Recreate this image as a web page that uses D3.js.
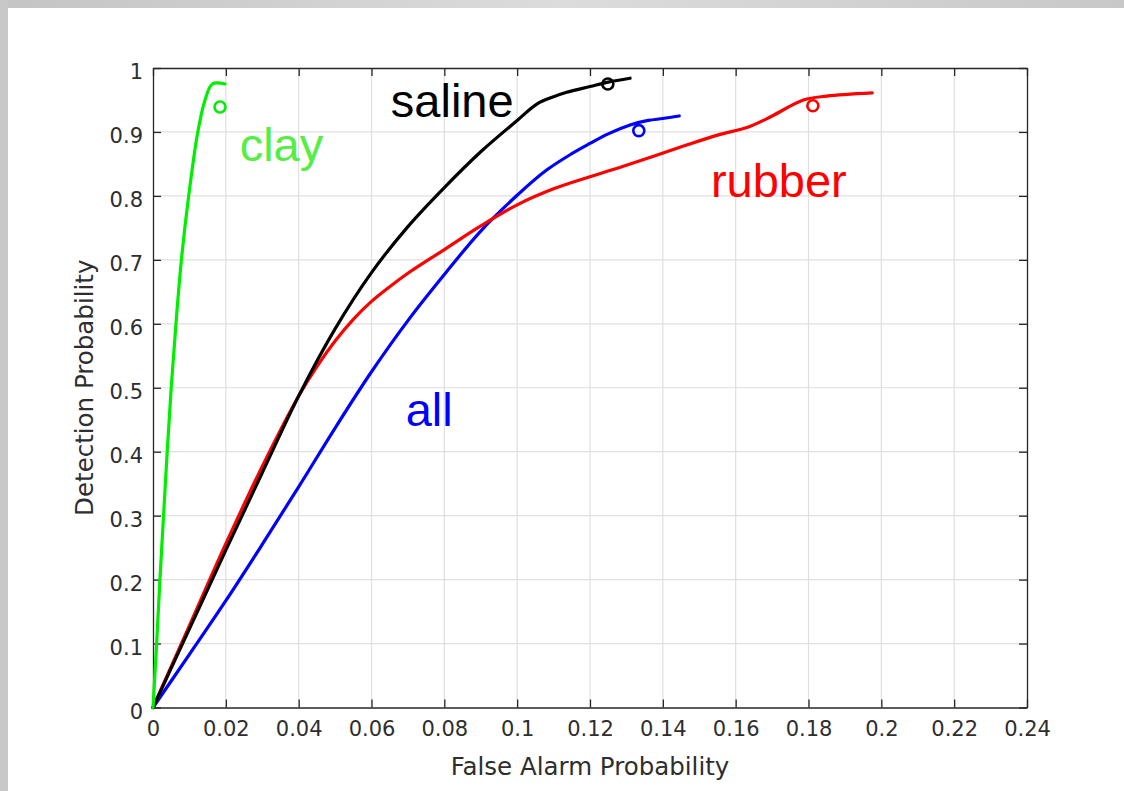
<!DOCTYPE html>
<html lang="en">
<head>
    <meta charset="UTF-8">
    <title>ROC curves</title>
    <script src="https://d3js.org/d3.v7.min.js"></script>
    <style>
        body {
            margin: 0;
            padding: 0;
            background-color: #ffffff;
            overflow: hidden;
        }

        #frame-top {
            position: absolute;
            left: 0;
            top: 0;
            width: 1124px;
            height: 8px;
            background: linear-gradient(to right, #c4c4c4, #dcdcdc 50%, #c8c8c8);
        }

        #frame-left {
            position: absolute;
            left: 0;
            top: 0;
            width: 8px;
            height: 791px;
            background-color: #c8c8c8;
        }

        #chart {
            position: absolute;
            left: 0;
            top: 0;
        }

        .tick-label {
            font-family: "DejaVu Sans", sans-serif;
            font-size: 21px;
            fill: #2e2e2e;
        }

        .axis-label {
            font-family: "DejaVu Sans", sans-serif;
            font-size: 24.5px;
            fill: #2e2e2e;
        }

        .curve-label {
            font-family: "Liberation Sans", Arial, sans-serif;
            font-size: 47px;
        }
    </style>
</head>
<body>
    <svg id="chart"></svg>
    <div id="frame-top"></div>
    <div id="frame-left"></div>

    <script>
        // tick values
        const xTicks = [0, 0.02, 0.04, 0.06, 0.08, 0.1, 0.12, 0.14, 0.16, 0.18, 0.2, 0.22, 0.24];
        const yTicks = [0, 0.1, 0.2, 0.3, 0.4, 0.5, 0.6, 0.7, 0.8, 0.9, 1];

        // curves (false alarm prob, detection prob)
        const clayPfa = [0, 0.001, 0.0019, 0.0029, 0.0039, 0.005, 0.0063, 0.0078, 0.0098, 0.0123, 0.0143, 0.0163, 0.0198];
        const clayPd  = [0, 0.1, 0.2, 0.3, 0.4, 0.5, 0.6, 0.7, 0.8, 0.9, 0.95, 0.975, 0.975];

        const salinePfa = [0, 0.01, 0.02, 0.03, 0.04, 0.05, 0.06, 0.07, 0.08, 0.09, 0.1, 0.1055, 0.11, 0.1136, 0.12, 0.125, 0.131];
        const salinePd  = [0, 0.123, 0.246, 0.367, 0.487, 0.592, 0.68, 0.752, 0.813, 0.869, 0.918, 0.944, 0.955, 0.962, 0.971, 0.978, 0.984];

        const allPfa = [0, 0.01, 0.02, 0.03, 0.04, 0.05, 0.06, 0.07, 0.08, 0.09, 0.1, 0.108, 0.115, 0.12, 0.125, 0.131, 0.136, 0.14, 0.1445];
        const allPd  = [0, 0.083, 0.167, 0.255, 0.345, 0.437, 0.525, 0.605, 0.677, 0.745, 0.801, 0.84, 0.866, 0.882, 0.897, 0.911, 0.918, 0.921, 0.925];

        const rubberPfa = [0, 0.01, 0.02, 0.03, 0.04, 0.045, 0.05, 0.055, 0.06, 0.065, 0.07, 0.08, 0.09, 0.1, 0.11, 0.12, 0.13, 0.1447, 0.155, 0.1637, 0.17, 0.1786, 0.185, 0.1975];
        const rubberPd  = [0, 0.128, 0.256, 0.377, 0.487, 0.533, 0.573, 0.607, 0.635, 0.658, 0.679, 0.716, 0.753, 0.786, 0.811, 0.83, 0.848, 0.876, 0.895, 0.908, 0.925, 0.95, 0.956, 0.961];

        // operating points (circles)
        const seriesNames = ["clay", "saline", "all", "rubber"];
        const seriesColors = ["#00ee00", "#000000", "#0000ff", "#ff0000"];
        const markerPfa = [0.0184, 0.1249, 0.1334, 0.1812];
        const markerPd  = [0.939, 0.975, 0.902, 0.941];

        // text labels placed in data coordinates
        const labelPfa = [0.0238, 0.0653, 0.0694, 0.1532];
        const labelPd  = [0.855, 0.923, 0.440, 0.798];
        const labelColors = ["#55ee44", "#000000", "#0000ff", "#ff0000"];

        const width = 1124;
        const height = 791;

        const svg = d3.select("#chart")
            .attr("width", width)
            .attr("height", height);

        const x = d3.scaleLinear().domain([0, 0.24]).range([153, 1027]);
        const y = d3.scaleLinear().domain([0, 1]).range([707.5, 68]);

        // grid
        const grid = svg.append("g");
        grid.selectAll(".vgrid").data(xTicks.slice(1, -1)).enter()
            .append("line")
            .attr("x1", d => x(d)).attr("x2", d => x(d))
            .attr("y1", y(0)).attr("y2", y(1))
            .attr("stroke", "#dfdfdf").attr("stroke-width", 1.2);
        grid.selectAll(".hgrid").data(yTicks.slice(1, -1)).enter()
            .append("line")
            .attr("x1", x(0)).attr("x2", x(0.24))
            .attr("y1", d => y(d)).attr("y2", d => y(d))
            .attr("stroke", "#dfdfdf").attr("stroke-width", 1.2);

        // axes with inward ticks on all four sides
        const fmt = d => d3.format("~g")(d);
        const tickLen = 8;

        const axisBottomG = svg.append("g")
            .attr("transform", `translate(0,${y(0)})`)
            .call(d3.axisBottom(x).tickValues(xTicks).tickFormat(fmt).tickSizeInner(-tickLen).tickSizeOuter(0).tickPadding(14));
        const axisTopG = svg.append("g")
            .attr("transform", `translate(0,${y(1)})`)
            .call(d3.axisTop(x).tickValues(xTicks).tickFormat("").tickSizeInner(-tickLen).tickSizeOuter(0));
        const axisLeftG = svg.append("g")
            .attr("transform", `translate(${x(0)},0)`)
            .call(d3.axisLeft(y).tickValues(yTicks).tickFormat(fmt).tickSizeInner(-tickLen).tickSizeOuter(0).tickPadding(10));
        const axisRightG = svg.append("g")
            .attr("transform", `translate(${x(0.24)},0)`)
            .call(d3.axisRight(y).tickValues(yTicks).tickFormat("").tickSizeInner(-tickLen).tickSizeOuter(0));

        [axisBottomG, axisTopG, axisLeftG, axisRightG].forEach(a => {
            a.select(".domain").attr("stroke", "#262626").attr("stroke-width", 1.3);
            a.selectAll(".tick line").attr("stroke", "#262626").attr("stroke-width", 1.3);
            a.selectAll(".tick text").attr("class", "tick-label").attr("fill", null);
        });
        axisLeftG.selectAll(".tick text").attr("dy", "0.5em");

        // axis titles
        svg.append("text")
            .attr("class", "axis-label")
            .attr("x", (x(0) + x(0.24)) / 2)
            .attr("y", 775)
            .attr("text-anchor", "middle")
            .text("False Alarm Probability");

        svg.append("text")
            .attr("class", "axis-label")
            .attr("transform", `translate(93,${(y(0) + y(1)) / 2}) rotate(-90)`)
            .attr("text-anchor", "middle")
            .text("Detection Probability");

        // curves
        const curves = [
            [clayPfa, clayPd],
            [salinePfa, salinePd],
            [allPfa, allPd],
            [rubberPfa, rubberPd]
        ];

        const line = d3.line()
            .x(d => x(d[0]))
            .y(d => y(d[1]))
            .curve(d3.curveCatmullRom.alpha(0.5));

        // draw order: all, rubber, saline, clay (saline sits over red near the origin)
        const drawOrder = [2, 3, 1, 0];
        drawOrder.forEach(i => {
            const pts = curves[i][0].map((v, k) => [v, curves[i][1][k]]);
            svg.append("path")
                .datum(pts)
                .attr("d", line)
                .attr("fill", "none")
                .attr("stroke", seriesColors[i])
                .attr("stroke-width", 3.2)
                .attr("stroke-linejoin", "round")
                .attr("stroke-linecap", "round");
        });

        svg.selectAll(".marker")
            .data(seriesNames)
            .enter()
            .append("circle")
            .attr("class", "marker")
            .attr("cx", (d, i) => x(markerPfa[i]))
            .attr("cy", (d, i) => y(markerPd[i]))
            .attr("r", 5.5)
            .attr("fill", "none")
            .attr("stroke", (d, i) => seriesColors[i])
            .attr("stroke-width", 2.6);

        svg.selectAll(".curve-label")
            .data(seriesNames)
            .enter()
            .append("text")
            .attr("class", "curve-label")
            .attr("x", (d, i) => x(labelPfa[i]))
            .attr("y", (d, i) => y(labelPd[i]))
            .attr("fill", (d, i) => labelColors[i])
            .text(d => d);
    </script>
</body>
</html>
